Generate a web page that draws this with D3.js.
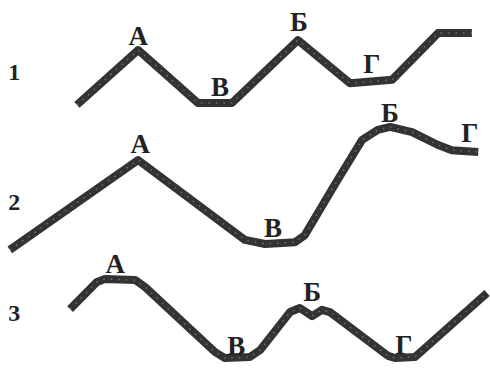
<!DOCTYPE html>
<html>
<head>
<meta charset="utf-8">
<script src="https://cdn.jsdelivr.net/npm/d3@7"></script>
<style>
  body { margin: 0; background: #fff; }
  .mark { font-family: "Liberation Serif", "DejaVu Serif", serif; font-weight: bold; fill: #222; }
</style>
</head>
<body>
<div id="chart"></div>
<script>
var svgWidth = 490;
var svgHeight = 368;

// profiles, x and y in percent of the picture (y measured from the bottom)
var line1X = [15.7, 28.2, 40.4, 47.3, 60.8, 71.4, 80.0, 89.4, 96.3];
var line1Y = [71.5, 86.4, 72.0, 72.0, 89.1, 77.4, 78.3, 91.0, 91.0];

var line2X = [2.0, 28.2, 50.0, 54.1, 60.2, 62.2, 68.4, 73.9, 77.1, 79.6, 84.1, 89.4, 92.2, 97.6];
var line2Y = [32.1, 56.5, 34.8, 33.7, 34.2, 36.1, 50.0, 62.0, 64.7, 65.5, 64.1, 60.6, 59.2, 58.7];

var line3X = [14.3, 19.8, 21.4, 27.6, 29.6, 43.9, 45.9, 51.0, 53.1, 59.2, 61.2, 63.7, 65.7, 67.3, 79.2, 80.6, 84.7, 99.4];
var line3Y = [16.0, 23.4, 24.2, 23.9, 22.0, 4.3, 2.7, 3.0, 4.9, 15.2, 16.3, 14.1, 15.8, 15.2, 3.3, 2.7, 3.0, 20.4];

// point letters
var letters = ["А", "В", "Б", "Г"];
var line1LabX = [28.2, 44.9, 61.0, 75.9];
var line1LabY = [90.2, 76.4, 94.0, 82.6];
var line2LabX = [28.6, 55.7, 79.6, 95.9];
var line2LabY = [60.9, 38.0, 69.3, 63.9];
var line3LabX = [23.5, 48.2, 63.7, 82.4];
var line3LabY = [28.3, 6.0, 20.7, 6.3];

// row numbers
var rowNames = ["1", "2", "3"];
var rowNameX = [2.9, 2.9, 2.9];
var rowNameY = [80.4, 45.1, 15.0];

var svg = d3.select("#chart")
  .append("svg")
  .attr("width", svgWidth)
  .attr("height", svgHeight);

var xScale = d3.scaleLinear().domain([0, 100]).range([0, svgWidth]);
var yScale = d3.scaleLinear().domain([0, 100]).range([svgHeight, 0]);

var lineGen = d3.line()
  .x(d => xScale(d[0]))
  .y(d => yScale(d[1]))
  .curve(d3.curveLinear);

var lines = [
  d3.zip(line1X, line1Y),
  d3.zip(line2X, line2Y),
  d3.zip(line3X, line3Y)
];

svg.selectAll(".profile")
  .data(lines)
  .enter()
  .append("path")
  .attr("class", "profile")
  .attr("d", lineGen)
  .attr("fill", "none")
  .attr("stroke", "#333")
  .attr("stroke-width", 8)
  .attr("stroke-linejoin", "round")
  .attr("stroke-linecap", "butt");

// a little speckle like the print
svg.selectAll(".speckle")
  .data(lines)
  .enter()
  .append("path")
  .attr("class", "speckle")
  .attr("d", lineGen)
  .attr("fill", "none")
  .attr("stroke", "#999")
  .attr("stroke-width", 1.5)
  .attr("stroke-dasharray", "1.5 6")
  .attr("opacity", 0.6);

var labX = [line1LabX, line2LabX, line3LabX];
var labY = [line1LabY, line2LabY, line3LabY];
var labels = [];
labX.forEach(function(xs, r) {
  xs.forEach(function(x, i) {
    labels.push({ t: letters[i], x: x, y: labY[r][i] });
  });
});

svg.selectAll(".letter")
  .data(labels)
  .enter()
  .append("text")
  .attr("class", "mark letter")
  .attr("x", d => xScale(d.x))
  .attr("y", d => yScale(d.y))
  .attr("text-anchor", "middle")
  .attr("dominant-baseline", "central")
  .attr("font-size", 27)
  .text(d => d.t);

svg.selectAll(".rowname")
  .data(rowNames)
  .enter()
  .append("text")
  .attr("class", "mark rowname")
  .attr("x", (d, i) => xScale(rowNameX[i]))
  .attr("y", (d, i) => yScale(rowNameY[i]))
  .attr("text-anchor", "middle")
  .attr("dominant-baseline", "central")
  .attr("font-size", 24)
  .text(d => d);
</script>
</body>
</html>
